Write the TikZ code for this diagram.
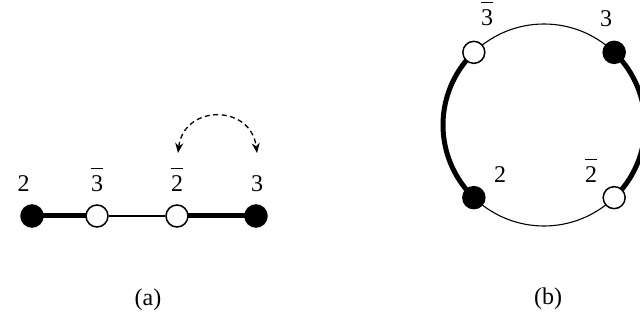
\documentclass[tikz,border=0pt]{standalone}
\usepackage{fontspec}
\setmainfont{Liberation Serif}
\usetikzlibrary{arrows.meta,backgrounds,calc}
\newcommand\ob[1]{\vbox{\hrule height 1pt\kern 7pt\hbox{#1}}}
\begin{document}
\begin{tikzpicture}[x=1pt,y=-1pt,
  vtx/.style={circle,draw=black,line width=1.5pt,minimum size=22pt,inner sep=0pt},
  blk/.style={vtx,fill=black},
  wht/.style={vtx,fill=white},
  thick edge/.style={line width=5pt},
  thin edge/.style={line width=1.1pt},
  lbl/.style={font=\fontsize{24}{26}\selectfont,anchor=base,inner sep=0pt},
  captxt/.style={font=\fontsize{24}{26}\selectfont,inner sep=0pt}]
\useasboundingbox (0,0) rectangle (640,320);
% (a)
\node[blk] (a2) at (32,216) {};
\node[wht] (a3b) at (97,216) {};
\node[wht] (a2b) at (177,216) {};
\node[blk] (a3) at (256,216) {};
\begin{scope}[on background layer]
\draw[thick edge] (a2.center) -- (a3b.center);
\draw[thin edge] (a3b) -- (a2b);
\draw[thick edge] (a2b.center) -- (a3.center);
\end{scope}
\node[lbl] (la2) at (23.5,192) {2};
\node[lbl] (la3b) at (97,192) {\ob{3}};
\node[lbl] (la2b) at (177,192) {\ob{2}};
\node[lbl] (la3) at (257,192) {3};
\coordinate (sw1) at (178,153);
\coordinate (sw2) at (257,153);
\draw[line width=1.3pt,dash pattern=on 5pt off 3.5pt,{Stealth[length=10pt,width=8pt]}-{Stealth[length=10pt,width=8pt]}]
  (sw1) .. controls (184,104) and (251,104) .. (sw2);
\node[captxt] (ca) at (148,300) {(a)};
% (b)  (angles in screen orientation, y downward)
\coordinate (c) at (544,125);
\node[wht] (b3b) at ($(c)+(226:101)$) {};
\node[blk] (b3) at ($(c)+(314:101)$) {};
\node[blk] (b2) at ($(c)+(134:101)$) {};
\node[wht] (b2b) at ($(c)+(46:101)$) {};
\begin{scope}[on background layer]
\draw[thin edge] (b3b.center) arc[start angle=226,end angle=314,radius=101];
\draw[thick edge] (b3b.center) arc[start angle=226,end angle=134,radius=101];
\draw[thin edge] (b2.center) arc[start angle=134,end angle=46,radius=101];
\draw[thick edge] (b3.center) arc[start angle=-46,end angle=46,radius=101];
\end{scope}
\node[lbl] (lb3b) at (487,26) {\ob{3}};
\node[lbl] (lb3) at (606,26.5) {3};
\node[lbl] (lb2) at (500,183) {2};
\node[lbl] (lb2b) at (591,183) {\ob{2}};
\node[captxt] (cb) at (548,299) {(b)};
\end{tikzpicture}
\end{document}
